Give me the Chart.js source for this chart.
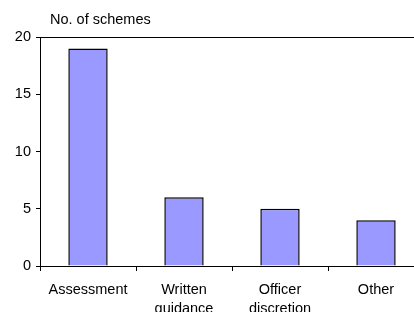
<!DOCTYPE html>
<html lang="en">
<head>
    <meta charset="UTF-8">
    <title>No. of schemes</title>
    <script src="https://cdn.jsdelivr.net/npm/chart.js"></script>
    <style>
        html, body {
            margin: 0;
            padding: 0;
            background: #fff;
            overflow: hidden;
        }
        /* plot area runs a little past the right edge, like the original */
        .chart-container {
            position: relative;
            width: 424px;
            height: 312px;
        }
    </style>
</head>
<body>
<div class="chart-container">
    <canvas id="chart1"></canvas>
</div>

<script>
    // Data
    const categories = ['Assessment', ['Written', 'guidance'], ['Officer', 'discretion'], 'Other'];
    const schemeCounts = [19, 6, 5, 4];
    const yTicks = [0, 5, 10, 15, 20];
    const yTitle = 'No. of schemes';

    const FONT = "Arial, 'Liberation Sans', sans-serif";

    // Axis title drawn above the plot, left aligned
    const titlePlugin = {
        id: 'topTitle',
        afterDraw(chart) {
            const ctx = chart.ctx;
            ctx.save();
            ctx.font = '14.5px ' + FONT;
            ctx.fillStyle = '#000';
            ctx.textBaseline = 'middle';
            ctx.textAlign = 'left';
            ctx.fillText(yTitle, chart.chartArea.left + 10, 20);
            ctx.restore();
        }
    };

    const ctx = document.getElementById('chart1').getContext('2d');
    new Chart(ctx, {
        type: 'bar',
        data: {
            labels: categories,
            datasets: [{
                data: schemeCounts,
                backgroundColor: '#9999ff',
                borderColor: '#000',
                borderWidth: 1.5,
                barPercentage: 0.41,
                categoryPercentage: 1
            }]
        },
        options: {
            responsive: true,
            maintainAspectRatio: false,
            animation: false,
            layout: {
                padding: {top: 37, left: 0, right: 0, bottom: 0}
            },
            plugins: {
                legend: {display: false},
                tooltip: {enabled: false}
            },
            scales: {
                x: {
                    offset: true,
                    grid: {
                        offset: true,
                        drawOnChartArea: false,
                        tickColor: '#000',
                        tickLength: 5
                    },
                    border: {color: '#000', width: 1},
                    ticks: {
                        color: '#000',
                        font: {family: FONT, size: 14.5, lineHeight: 1.35},
                        padding: 9,
                        maxRotation: 0,
                        autoSkip: false
                    },
                    afterFit(scale) {
                        scale.height = 46;
                    }
                },
                y: {
                    min: 0,
                    max: 20,
                    afterBuildTicks(scale) {
                        scale.ticks = yTicks.map(v => ({value: v}));
                    },
                    grid: {
                        color: c => (c.tick && c.tick.value === 20) ? '#000' : 'transparent',
                        tickColor: '#000',
                        tickLength: 4
                    },
                    border: {color: '#000', width: 1},
                    ticks: {
                        color: '#000',
                        font: {family: FONT, size: 14.5},
                        padding: 5
                    },
                    afterFit(scale) {
                        scale.width = 40;
                    }
                }
            }
        },
        plugins: [titlePlugin]
    });
</script>
</body>
</html>
